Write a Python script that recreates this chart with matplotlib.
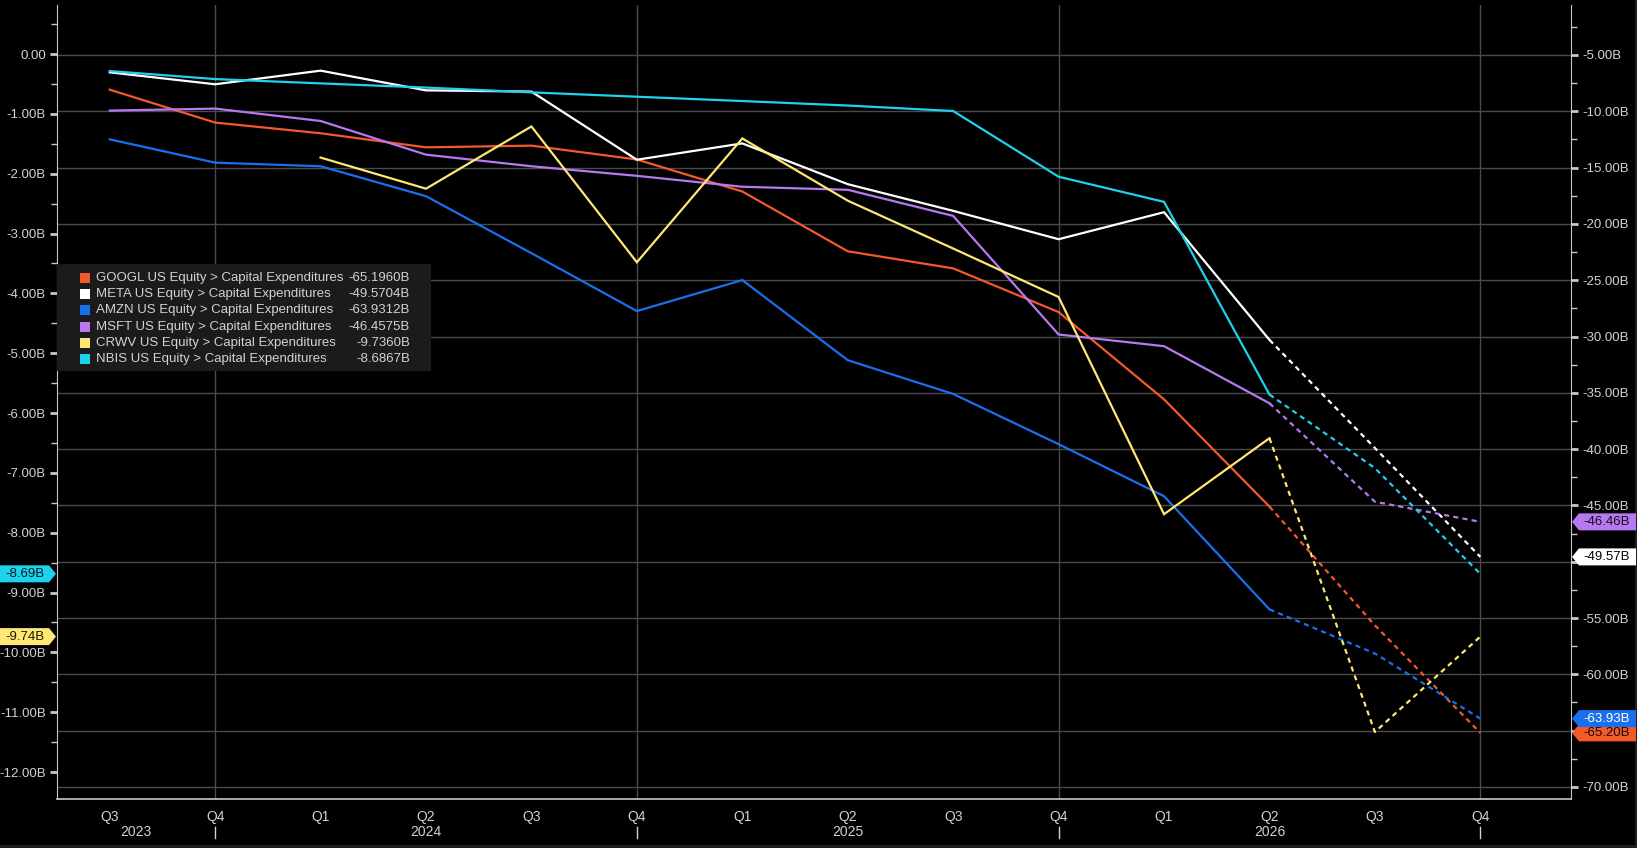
import matplotlib
matplotlib.use('Agg')
import matplotlib.pyplot as plt
from matplotlib import font_manager
from matplotlib.patches import Polygon, Rectangle
from matplotlib.transforms import blended_transform_factory
from matplotlib.ticker import MultipleLocator
import numpy as np

# ---------------- data ----------------
quarters = ['Q3', 'Q4', 'Q1', 'Q2', 'Q3', 'Q4', 'Q1', 'Q2', 'Q3', 'Q4', 'Q1', 'Q2', 'Q3', 'Q4']
years = ['2023', '2024', '2025', '2026']

googl = [-8.08, -11.0, -11.95, -13.2, -13.05, -14.28, -17.12, -22.43, -23.95, -27.83, -35.58, -45.1, -55.65, -65.1960]
meta = [-6.54, -7.6, -6.39, -8.14, -8.25, -14.3, -12.85, -16.47, -18.84, -21.36, -18.96, -30.3, -39.9, -49.5704]
amzn = [-12.49, -14.56, -14.88, -17.54, -22.6, -27.74, -24.99, -32.1, -35.1, -39.56, -44.18, -54.23, -58.15, -63.9312]
msft = [-9.94, -9.76, -10.86, -13.85, -14.88, -15.73, -16.7, -16.97, -19.29, -29.82, -30.86, -35.93, -44.67, -46.4575]
crwv = [np.nan, np.nan, -1.73, -2.25, -1.21, -3.48, -1.41, -2.45, -3.25, -4.06, -7.69, -6.42, -11.33, -9.7360]
nbis = [-0.284, -0.418, -0.49, -0.56, -0.64, -0.713, -0.785, -0.86, -0.952, -2.05, -2.47, -5.69, -6.92, -8.6867]

tickers = ['GOOGL', 'META', 'AMZN', 'MSFT', 'CRWV', 'NBIS']
series = [googl, meta, amzn, msft, crwv, nbis]
colors = ['#f4592b', '#ffffff', '#1a70ec', '#b879f0', '#ffe773', '#1ed2ee']
on_right = [True, True, True, True, False, False]
tag_text_colors = ['#1a0800', '#000000', '#ffffff', '#140a20', '#1a1600', '#001a1e']
first_dashed = 11  # last actual point index; dashed afterwards

# ---------------- fonts ----------------
names = {f.name for f in font_manager.fontManager.ttflist}
main_font = 'Liberation Sans' if 'Liberation Sans' in names else 'DejaVu Sans'
narrow_font = 'Liberation Sans Narrow' if 'Liberation Sans Narrow' in names else main_font
plt.rcParams['font.family'] = [main_font, 'DejaVu Sans']

TXT = '#d2d2d2'
GRID = '#4a4a4a'
SPINE = '#c8c8c8'

W, H = 1637, 848
fig = plt.figure(figsize=(W / 100, H / 100), dpi=100, facecolor='black')
ax = fig.add_axes([57 / W, 49 / H, 1514 / W, 794 / H])
ax2 = ax.twinx()
ax.set_zorder(ax2.get_zorder() + 1)
ax.patch.set_visible(False)
fig.patch.set_facecolor('black')

x = np.arange(len(quarters))
for vals, col, right in zip(series, colors, on_right):
    a = ax2 if right else ax
    v = np.array(vals, dtype=float)
    a.plot(x[:first_dashed + 1], v[:first_dashed + 1], color=col, lw=1.6,
           solid_joinstyle='miter', zorder=3)
    a.plot(x[first_dashed:], v[first_dashed:], color=col, lw=1.6,
           linestyle=(0, (2.3, 1.9)), zorder=3)

ax.set_xlim(-0.5, 13.86)
ax.set_ylim(-12.45, 0.82)
ax2.set_ylim(-71.07, -0.56)

# grid
ax2.yaxis.set_major_locator(MultipleLocator(5))
ax2.yaxis.set_minor_locator(MultipleLocator(2.5))
ax2.grid(axis='y', which='major', color=GRID, lw=1.0)
for q in [1, 5, 9, 13]:
    ax2.axvline(q, color=GRID, lw=1.0, zorder=0)

ax.yaxis.set_major_locator(MultipleLocator(1))
ax.yaxis.set_minor_locator(MultipleLocator(0.5))

def lfmt(v):
    return '0.00' if abs(v) < 1e-9 else f'{v:.2f}B'

lt = [t for t in np.arange(0, -12.01, -1)]
ax.set_yticks(lt)
ax.set_yticklabels([lfmt(t) for t in lt])
rt = [t for t in np.arange(-5, -70.01, -5)]
ax2.set_yticks(rt)
ax2.set_yticklabels([f'{t:.2f}B' for t in rt])

for a in (ax, ax2):
    a.tick_params(axis='y', which='major', length=5, width=2, color=SPINE,
                  labelsize=9.5, labelcolor=TXT, pad=3)
    a.tick_params(axis='y', which='minor', length=4, width=1, color=SPINE)
    for s in a.spines.values():
        s.set_visible(False)

ax.spines['left'].set_visible(True)
ax.spines['left'].set_color(SPINE)
ax.spines['bottom'].set_visible(True)
ax.spines['bottom'].set_color(SPINE)
ax.spines['bottom'].set_linewidth(1.2)
ax2.spines['right'].set_visible(True)
ax2.spines['right'].set_color(SPINE)

ax.set_xticks(x)
ax.set_xticklabels(quarters, fontfamily=narrow_font, fontsize=10, color=TXT)
ax.tick_params(axis='x', length=0, pad=8)

trans = blended_transform_factory(ax.transData, ax.transAxes)
x0 = ax.get_xlim()[0]
bounds = [x0, 1, 5, 9, 13]
for i, yr in enumerate(years):
    pos = (bounds[i] + bounds[i + 1]) / 2
    ax.text(pos, -(832 - 799) / 794, yr, transform=trans, ha='center', va='center',
            fontsize=10, color=TXT, fontfamily=narrow_font)
for q in bounds[1:]:
    ax.plot([q, q], [-(827 - 799) / 794, -(838 - 799) / 794], transform=trans,
            clip_on=False, color=TXT, lw=1)

# ---------------- legend ----------------
def fx(px):
    return px / W

def fy(py):
    return 1 - py / H

fig.add_artist(Rectangle((fx(57), fy(371)), fx(431) - fx(57), fy(264) - fy(371),
                         transform=fig.transFigure, facecolor='#1b1b1b', edgecolor='none',
                         zorder=10))
row0 = 278
dy = 16.2
for i, (tk, vals, col) in enumerate(zip(tickers, series, colors)):
    yc = row0 + i * dy
    fig.add_artist(Rectangle((fx(80), fy(yc + 5)), fx(10), 10 / H,
                             transform=fig.transFigure, facecolor=col, edgecolor='none',
                             zorder=11))
    fig.text(fx(96), fy(yc), f'{tk} US Equity > Capital Expenditures', ha='left',
             va='center', fontsize=9.5, color=TXT, zorder=12)
    fig.text(fx(410), fy(yc), f'{vals[-1]:.4f}B', ha='right', va='center',
             fontsize=9.5, color=TXT, zorder=12)

# ---------------- end tags ----------------
hh = 8.5
order = [0, 1, 3, 2, 4, 5]  # blue drawn over orange
right_tag_y = []
for i in order:
    vals, col, right, tc = series[i], colors[i], on_right[i], tag_text_colors[i]
    a = ax2 if right else ax
    yp = a.transData.transform((0, vals[-1]))[1]
    if right:
        right_tag_y.append(yp)
        pts = [(1572, yp), (1579, yp + hh), (1636, yp + hh), (1636, yp - hh), (1579, yp - hh)]
        xc = 1607
    else:
        pts = [(0, yp - hh), (49, yp - hh), (56, yp), (49, yp + hh), (0, yp + hh)]
        xc = 25
    pts = [(px / W, py / H) for px, py in pts]
    fig.add_artist(Polygon(pts, closed=True, transform=fig.transFigure, facecolor=col,
                           edgecolor='none', zorder=13))
    fig.text(xc / W, yp / H, f'{vals[-1]:.2f}B', ha='center', va='center',
             fontsize=9.5, color=tc, zorder=14)

# hide right-axis tick labels fully covered by an end tag (as in the reference)
for t, lab in zip(rt, ax2.get_yticklabels()):
    ty = ax2.transData.transform((0, t))[1]
    if any(abs(ty - ry) < 10 for ry in right_tag_y):
        lab.set_visible(False)

# frame strips
fig.add_artist(Rectangle((0, 0), 1, 3 / H, transform=fig.transFigure,
                         facecolor='#1e1e1e', edgecolor='none', zorder=1))
fig.add_artist(Rectangle((1 - 2 / W, 0), 2 / W, 1, transform=fig.transFigure,
                         facecolor='#1e1e1e', edgecolor='none', zorder=1))

fig.savefig('out.png', dpi=100, facecolor='black')
